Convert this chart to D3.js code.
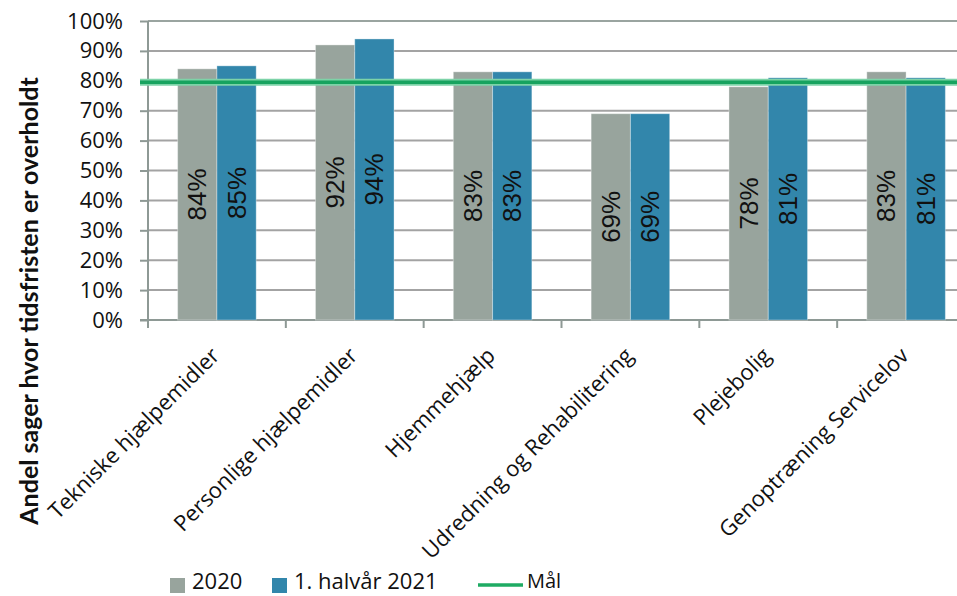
<!DOCTYPE html>
<html><head><meta charset="utf-8">
<script src="https://cdnjs.cloudflare.com/ajax/libs/d3/7.8.5/d3.min.js"></script>
<style>body{margin:0;background:#fff}svg{display:block}</style>
</head><body><svg id="c" width="957" height="596"></svg>
<script>
const categories = ["Tekniske hjælpemidler","Personlige hjælpemidler","Hjemmehjælp","Udredning og Rehabilitering","Plejebolig","Genoptræning Servicelov"];
const seriesNames = ["2020","1. halvår 2021"];
const values2020 = [84, 92, 83, 69, 78, 83];
const values2021 = [85, 94, 83, 69, 81, 81];
const goalName = "Mål";
const goalValue = 80;
const yTicks = [0,10,20,30,40,50,60,70,80,90,100];
const yTitle = "Andel sager hvor tidsfristen er overholdt";
const colors = ["#98a49d", "#3286ab"];
const goalColor = "#17a35f";

const svg = d3.select("#c");
const L = 148, R = 975, T = 21, B = 320;
const x0 = d3.scaleBand().domain(categories).range([L, R]).paddingInner(0.43).paddingOuter(0.215);
const x1 = d3.scaleBand().domain(seriesNames).range([0, x0.bandwidth()]);
const y = d3.scaleLinear().domain([0, 100]).range([B, T]);
const tickX = c => x0(c) - x0.step() * x0.paddingInner() / 2;

// gridlines
svg.append("g").selectAll("line").data(yTicks.filter(v => v > 0)).join("line")
  .attr("x1", L).attr("x2", 957).attr("y1", d => y(d)).attr("y2", d => y(d))
  .attr("stroke", d => d === 100 ? "#9aa4a0" : "#a3a3a3").attr("stroke-width", 2);

// y axis
const yAxis = d3.axisLeft(y).tickValues(yTicks).tickFormat(d => d + "%").tickSize(8).tickPadding(17);
const gy = svg.append("g").attr("transform", `translate(${L},0)`).call(yAxis);
gy.select(".domain").attr("stroke", "#8e9995").attr("stroke-width", 2).attr("d", `M0,${B+8}V${T}`);
gy.selectAll(".tick line").attr("stroke", "#8e9995").attr("stroke-width", 2);
gy.selectAll(".tick text").attr("font-family", "'Open Sans'").attr("font-size", 22).attr("fill", "#111");

// x axis line + ticks
svg.append("line").attr("x1", L - 8).attr("x2", 957).attr("y1", B).attr("y2", B)
  .attr("stroke", "#8e9995").attr("stroke-width", 2);
svg.append("g").selectAll("line").data(categories).join("line")
  .attr("x1", d => tickX(d)).attr("x2", d => tickX(d)).attr("y1", B).attr("y2", B + 8)
  .attr("stroke", "#8e9995").attr("stroke-width", 2);

// bars
const groups = svg.append("g").selectAll("g").data(categories).join("g")
  .attr("transform", d => `translate(${x0(d)},0)`);
const barData = (c, i) => [
  {s: seriesNames[0], v: values2020[i], k: 0},
  {s: seriesNames[1], v: values2021[i], k: 1}];
groups.selectAll("rect").data((c, i) => barData(c, i)).join("rect")
  .attr("x", d => x1(d.s)).attr("width", x1.bandwidth())
  .attr("y", d => y(d.v)).attr("height", d => B - y(d.v))
  .attr("fill", d => colors[d.k]).attr("stroke", "rgba(255,255,255,0.35)").attr("stroke-width", 1);
groups.selectAll("text").data((c, i) => barData(c, i)).join("text")
  .attr("transform", d => `translate(${x1(d.s) + x1.bandwidth() / 2},${(y(d.v) + B) / 2}) rotate(-90)`)
  .attr("text-anchor", "middle").attr("dominant-baseline", "central")
  .attr("font-family", "'Liberation Sans Narrow','Arial Narrow','Liberation Sans'").attr("font-size", 26)
  .attr("fill", "#111").text(d => d.v + "%");

// goal line
svg.append("line").attr("x1", 140).attr("x2", 957).attr("y1", y(goalValue) + 1.5).attr("y2", y(goalValue) + 1.5)
  .attr("stroke", "#7dd3a8").attr("stroke-width", 7);
svg.append("line").attr("x1", 140).attr("x2", 957).attr("y1", y(goalValue) + 1.5).attr("y2", y(goalValue) + 1.5)
  .attr("stroke", goalColor).attr("stroke-width", 3.5);

// x labels
svg.append("g").selectAll("text").data(categories).join("text")
  .attr("transform", d => `translate(${x0(d) + x0.bandwidth() / 2 + 4},357) rotate(-45)`)
  .attr("text-anchor", "end").attr("font-family", "'Open Sans'").attr("font-size", 22)
  .attr("fill", "#111").text(d => d);

// y title
svg.append("text").attr("transform", "translate(38,301) rotate(-90)")
  .attr("text-anchor", "middle").attr("font-family", "Lato").attr("font-weight", "bold")
  .attr("font-size", 25).attr("fill", "#111").text(yTitle);

// legend
const lg = svg.append("g");
const legendItems = [{n: seriesNames[0], x: 170, c: colors[0]}, {n: seriesNames[1], x: 272, c: colors[1]}];
lg.selectAll("rect").data(legendItems).join("rect")
  .attr("x", d => d.x).attr("y", 578).attr("width", 15).attr("height", 15).attr("fill", d => d.c);
lg.selectAll("text.s").data(legendItems).join("text").attr("class", "s")
  .attr("x", d => d.x + 22).attr("y", 589).attr("font-family", "'Open Sans'").attr("font-size", 22)
  .attr("fill", "#111").text(d => d.n);
lg.append("line").attr("x1", 478).attr("x2", 523).attr("y1", 585).attr("y2", 585)
  .attr("stroke", "#1eab63").attr("stroke-width", 3.5);
lg.append("text").attr("x", 527).attr("y", 588).attr("font-family", "'Open Sans'").attr("font-size", 20)
  .attr("fill", "#111").text(goalName);
</script></body></html>
